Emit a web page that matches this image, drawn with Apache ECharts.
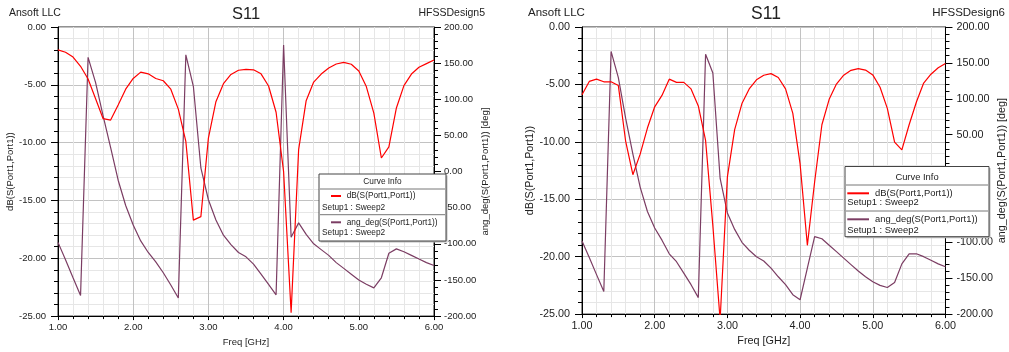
<!DOCTYPE html>
<html><head><meta charset="utf-8">
<script src="https://cdn.jsdelivr.net/npm/echarts@6/dist/echarts.min.js"></script>
<style>html,body{margin:0;padding:0;background:#fff}#c{width:1009px;height:352px}</style>
</head><body><div id="c"></div>
<script>
// ---- data ----
const freq = [1.0,1.1,1.2,1.3,1.4,1.5,1.6,1.7,1.8,1.9,2.0,2.1,2.2,2.3,2.4,2.5,2.6,2.7,2.8,2.9,3.0,3.1,3.2,3.3,3.4,3.5,3.6,3.7,3.8,3.9,4.0,4.1,4.2,4.3,4.4,4.5,4.6,4.7,4.8,4.9,5.0,5.1,5.2,5.3,5.4,5.5,5.6,5.7,5.8,5.9,6.0];
const dbDesign5 = [-1.98,-2.18,-2.6,-3.4,-4.5,-6.2,-7.93,-8.05,-6.74,-5.38,-4.45,-3.9,-4.05,-4.45,-4.65,-5.38,-7.1,-9.9,-16.7,-16.4,-9.6,-6.46,-4.9,-4.1,-3.74,-3.66,-3.7,-4.05,-5.1,-7.37,-12.5,-24.7,-10.6,-6.37,-4.76,-4.07,-3.54,-3.2,-3.06,-3.22,-3.8,-5.15,-7.45,-11.33,-10.37,-7.0,-5.07,-4.07,-3.48,-3.17,-2.86];
const angDesign5 = [-98,-122,-147,-171.5,158,123,77,33,-12,-47,-74,-96,-112,-125,-140,-157,-175,161.5,118,5,-39,-67,-88,-101,-112,-118,-128,-142,-156,-170.5,175,-91,-71,-87,-100,-108,-116,-126,-134,-142,-150,-156,-161,-147,-113,-107,-111,-116,-121,-126,-130];
const dbDesign6 = [-5.9,-4.74,-4.54,-4.77,-4.77,-5.1,-9.93,-12.86,-11.07,-8.8,-6.95,-5.96,-4.54,-4.82,-4.82,-5.39,-6.87,-9.88,-17.3,-25.5,-13.05,-8.94,-6.67,-5.39,-4.6,-4.2,-4.06,-4.4,-5.39,-7.52,-11.92,-19.01,-13.5,-8.51,-6.3,-4.97,-4.2,-3.77,-3.63,-3.75,-4.17,-5.25,-7.09,-10.02,-10.7,-8.51,-6.53,-4.88,-4.11,-3.55,-3.18];
const angDesign6 = [-98,-121,-145,-168.5,166,129.5,73,23,-23,-57,-80,-97,-116,-127,-143,-159,-177,162,136,-11,-59,-82,-100,-111,-120,-126,-136,-148,-159,-173,-180,-136,-92,-95,-104,-113,-122,-131,-140,-148,-155,-160,-163,-156,-130,-116,-116,-120,-125,-130,-134];
const seriesNames = ['dB(S(Port1,Port1))','ang_deg(S(Port1,Port1))'];
const setupLabel = 'Setup1 : Sweep2';
const designNames = ['HFSSDesign5','HFSSDesign6'];

// ---- chart ----
const FF = 'Liberation Sans, Arial, sans-serif';
const RED = '#ff0000', PURPLE = '#7b3d63';
const zip = (xs, ys) => xs.map((x, i) => [x, ys[i]]);
const fmt2 = v => v.toFixed(2);

function xAxisCfg(gi, fs) {
  return {
    type: 'value', gridIndex: gi, min: 1, max: 6, interval: 1,
    name: 'Freq [GHz]', nameLocation: 'middle', nameGap: 15,
    nameTextStyle: { fontSize: fs, color: '#222', fontFamily: FF },
    axisLine: { onZero: false, lineStyle: { color: '#000', width: 1 } },
    axisTick: { show: true, length: 4, lineStyle: { color: '#000' } },
    minorTick: { show: true, splitNumber: 5, length: 3, lineStyle: { color: '#000' } },
    axisLabel: { formatter: fmt2, fontSize: fs, color: '#222', fontFamily: FF, margin: 6, showMinLabel: true, showMaxLabel: true },
    splitLine: { show: true, lineStyle: { color: '#c2c2c2', width: 1 } },
    minorSplitLine: { show: true, lineStyle: { color: '#e6e6e6', width: 1 } }
  };
}
function yLeftCfg(gi, fs, gap, margin) {
  return {
    type: 'value', gridIndex: gi, position: 'left', min: -25, max: 0, interval: 5,
    name: seriesNames[0], nameLocation: 'middle', nameGap: gap, nameRotate: 90,
    nameTextStyle: { fontSize: fs, color: '#222', fontFamily: FF },
    axisLine: { show: true, onZero: false, lineStyle: { color: '#000', width: 1 } },
    axisTick: { show: true, length: 7, lineStyle: { color: '#000' } },
    minorTick: { show: true, splitNumber: 5, length: 4, lineStyle: { color: '#000' } },
    axisLabel: { formatter: fmt2, fontSize: fs, color: '#222', fontFamily: FF, margin: margin, showMinLabel: true, showMaxLabel: true },
    splitLine: { show: true, lineStyle: { color: '#c2c2c2', width: 1 } },
    minorSplitLine: { show: true, lineStyle: { color: '#e6e6e6', width: 1 } }
  };
}
function yRightCfg(gi, fs, gap, margin) {
  return {
    type: 'value', gridIndex: gi, position: 'right', min: -200, max: 200, interval: 50,
    name: seriesNames[1] + ' [deg]', nameLocation: 'middle', nameGap: gap, nameRotate: 90,
    nameTextStyle: { fontSize: fs, color: '#222', fontFamily: FF },
    axisLine: { show: true, onZero: false, lineStyle: { color: '#000', width: 1 } },
    axisTick: { show: true, length: 7, lineStyle: { color: '#000' } },
    minorTick: { show: true, splitNumber: 5, length: 4, lineStyle: { color: '#000' } },
    axisLabel: { formatter: fmt2, fontSize: fs, color: '#222', fontFamily: FF, margin: margin, showMinLabel: true, showMaxLabel: true },
    splitLine: { show: false },
    minorSplitLine: { show: false }
  };
}
function lineSeries(xi, yi, data, color) {
  return { type: 'line', xAxisIndex: xi, yAxisIndex: yi, data: data, showSymbol: false, symbol: 'none',
    lineStyle: { color: color, width: 1.2 }, itemStyle: { color: color }, animation: false, clip: true };
}
function txt(x, y, s, fs, align, extra) {
  return Object.assign({ type: 'text', x: x, y: y, z: 120,
    style: { text: s, fontSize: fs, fontFamily: FF, fill: '#222', align: align || 'left', verticalAlign: 'middle' } }, extra || {});
}
function legendBlock(L) {
  const els = [];
  els.push({ type: 'rect', z: 110, shape: { x: L.x + 1.5, y: L.y + 1.5, width: L.w, height: L.h }, style: { fill: '#bbb' } });
  els.push({ type: 'rect', z: 111, shape: { x: L.x, y: L.y, width: L.w, height: L.h }, style: { fill: '#fff', stroke: '#444', lineWidth: 1 } });
  els.push(txt(L.x + L.w / 2, L.hy, 'Curve Info', L.fs, 'center'));
  els.push({ type: 'line', z: 112, shape: { x1: L.x + 1, y1: L.s1, x2: L.x + L.w - 1, y2: L.s1 }, style: { stroke: '#777', lineWidth: 1 } });
  els.push({ type: 'line', z: 112, shape: { x1: L.x + 1, y1: L.s2, x2: L.x + L.w - 1, y2: L.s2 }, style: { stroke: '#777', lineWidth: 1 } });
  els.push({ type: 'line', z: 112, shape: { x1: L.lx1, y1: L.e1, x2: L.lx2, y2: L.e1 }, style: { stroke: RED, lineWidth: 2 } });
  els.push({ type: 'line', z: 112, shape: { x1: L.lx1, y1: L.e2, x2: L.lx2, y2: L.e2 }, style: { stroke: PURPLE, lineWidth: 2 } });
  els.push(txt(L.tx, L.e1, seriesNames[0], L.fs));
  els.push(txt(L.sx, L.u1, setupLabel, L.fs));
  els.push(txt(L.tx, L.e2, seriesNames[1], L.fs));
  els.push(txt(L.sx, L.u2, setupLabel, L.fs));
  return els;
}

const graphic = [].concat(
  [
    txt(9, 13.5, 'Ansoft LLC', 10.5),
    txt(246, 14, 'S11', 16.5, 'center', {}),
    txt(485, 13.5, designNames[0], 10.5, 'right'),
    txt(528, 12.5, 'Ansoft LLC', 11.5),
    txt(766, 14, 'S11', 17.5, 'center'),
    txt(1005, 12.5, designNames[1], 11.5, 'right')
  ],
  legendBlock({ x: 319, y: 174, w: 127, h: 67, fs: 8.3, hy: 181.5, s1: 189, s2: 214.7,
    lx1: 331, lx2: 341, e1: 196, e2: 222.3, tx: 346.7, sx: 322, u1: 207.3, u2: 232.7 }),
  legendBlock({ x: 845, y: 166.5, w: 144, h: 70.2, fs: 9.4, hy: 177, s1: 185, s2: 211,
    lx1: 847.3, lx2: 869, e1: 193.3, e2: 219.3, tx: 875, sx: 847.3, u1: 202.7, u2: 230 })
);

const option = {
  animation: false,
  backgroundColor: '#fff',
  grid: [
    { left: 58, top: 27, width: 376, height: 294, show: true, borderColor: '#222', borderWidth: 1, backgroundColor: 'transparent' },
    { left: 582, top: 27, width: 366, height: 293, show: true, borderColor: '#222', borderWidth: 1, backgroundColor: 'transparent' }
  ],
  xAxis: [xAxisCfg(0, 9.5), xAxisCfg(1, 10.8)],
  yAxis: [yLeftCfg(0, 9.5, 33, 12), yRightCfg(0, 9.5, 45, 10), yLeftCfg(1, 10.8, 34, 12), yRightCfg(1, 10.8, 48, 11)],
  series: [
    lineSeries(0, 1, zip(freq, angDesign5), PURPLE),
    lineSeries(0, 0, zip(freq, dbDesign5), RED),
    lineSeries(1, 3, zip(freq, angDesign6), PURPLE),
    lineSeries(1, 2, zip(freq, dbDesign6), RED)
  ],
  graphic: graphic
};
const chart = echarts.init(document.getElementById('c'), null, { renderer: 'canvas' });
chart.setOption(option);
</script>
</body></html>
